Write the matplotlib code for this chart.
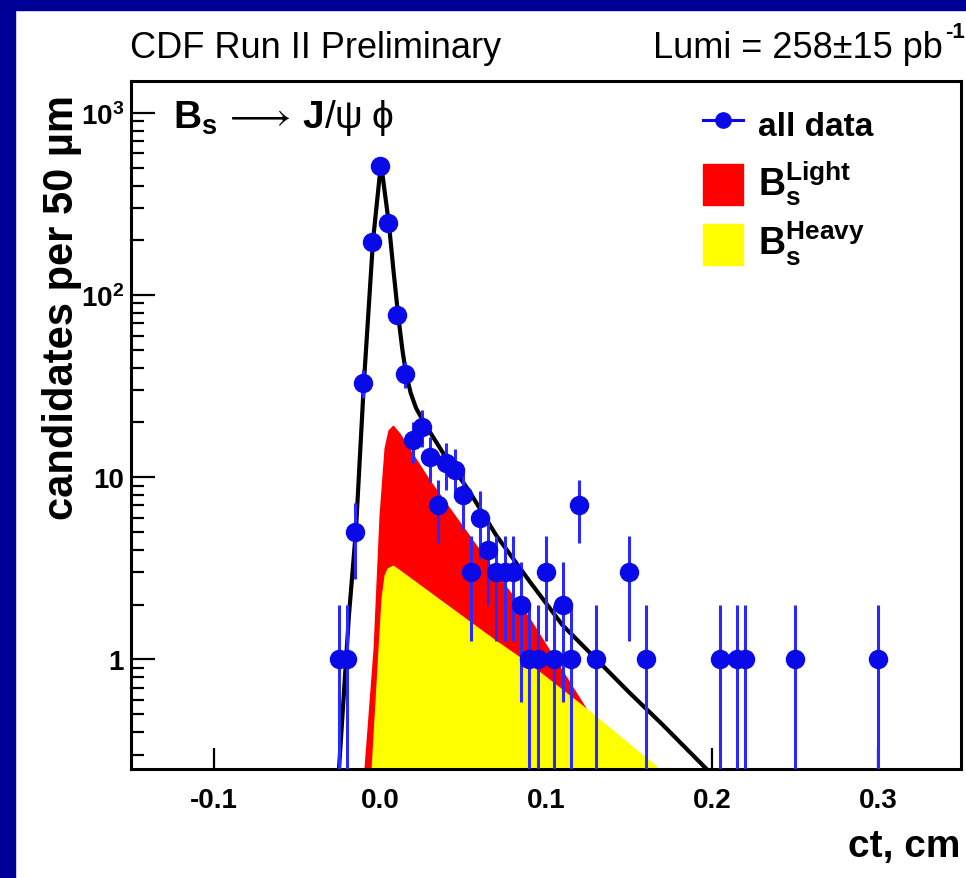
import matplotlib.pyplot as plt
from matplotlib.lines import Line2D
from matplotlib.patches import Rectangle
from matplotlib.ticker import LogLocator, NullFormatter, NullLocator
import numpy as np

plt.rcParams['font.family'] = ['Liberation Sans', 'DejaVu Sans']
plt.rcParams['mathtext.fontset'] = 'custom'
plt.rcParams['mathtext.rm'] = 'Liberation Sans'
plt.rcParams['mathtext.bf'] = 'Liberation Sans:bold'
plt.rcParams['mathtext.it'] = 'Liberation Sans:italic'

# proper decay length histogram, 50 um bins
ct = [-0.025, -0.02, -0.015, -0.01, -0.005, 0.0, 0.005, 0.01, 0.015, 0.02,
      0.025, 0.03, 0.035, 0.04, 0.045, 0.05, 0.055, 0.06, 0.065, 0.07,
      0.075, 0.08, 0.085, 0.09, 0.095, 0.1, 0.105, 0.11, 0.115, 0.12,
      0.13, 0.15, 0.16, 0.205, 0.215, 0.22, 0.25, 0.30]
counts = [1, 1, 5, 33, 195, 515, 248, 78, 37, 16,
          19, 13, 7, 12, 11, 8, 3, 6, 4, 3,
          3, 3, 2, 1, 1, 3, 1, 2, 1, 7,
          1, 3, 1, 1, 1, 1, 1, 1]

# total fit
fit_ct = [-0.0247, -0.0187, -0.0145, -0.0097, -0.0042, 0.0006, 0.0030, 0.0054,
          0.0080, 0.0109, 0.0135, 0.0157, 0.0185, 0.0217, 0.0260, 0.0296,
          0.0398, 0.0537, 0.0700, 0.0900, 0.1100, 0.1304, 0.1500, 0.1700,
          0.1967]
fit_val = [0.25, 1.75, 5.1, 33, 200, 530, 360, 245,
           140, 78, 50, 37, 29, 24, 20.4, 18,
           12.8, 8.4, 4.8, 2.69, 1.54, 1.0, 0.66, 0.44,
           0.25]

# light component
light_ct = [-0.0097, -0.0042, -0.0006, 0.0024, 0.0048, 0.0078, 0.0120,
            0.0296, 0.0700, 0.0900, 0.1243, 0.1480]
light_val = [0.25, 1.15, 6.2, 14.5, 18.2, 19.4, 17.5,
             9.8, 3.0, 1.7, 0.54, 0.25]

# heavy component
heavy_ct = [-0.0054, -0.0012, 0.0006, 0.0024, 0.0042, 0.0078, 0.0120,
            0.0700, 0.0900, 0.1243, 0.1666]
heavy_val = [0.25, 1.15, 2.17, 2.9, 3.17, 3.3, 3.1,
             1.27, 0.95, 0.54, 0.26]

W, H = 966, 879
fig = plt.figure(figsize=(W / 100, H / 100), dpi=100)
fig.patch.set_facecolor('white')
fig.patches.append(Rectangle((0, 0), 15 / W, 1, transform=fig.transFigure,
                             color='#000099', zorder=0))
fig.patches.append(Rectangle((0, 1 - 11 / H), 1, 11 / H, transform=fig.transFigure,
                             color='#000099', zorder=0))

ax = fig.add_axes([131 / W, 1 - 770 / H, 830 / W, 688 / H])
ax.set_yscale('log')

ax.fill_between(light_ct, 1e-3, light_val, color='#ff0000', lw=0, zorder=1)
ax.fill_between(heavy_ct, 1e-3, heavy_val, color='#ffff00', lw=0, zorder=2)

y = np.array(counts, dtype=float)
err = np.sqrt(y)
lo = np.where(y - err > 0, err, y - 1e-3)
ax.errorbar(ct, y, yerr=[lo, err], fmt='o', color='#0a0ae8', ecolor='#2828ff',
            elinewidth=2.2, ms=13, capsize=0, zorder=4)

ax.plot(fit_ct, fit_val, color='black', lw=3, zorder=3, solid_joinstyle='round')

ax.set_xlim(-0.15, 0.35)
ax.set_ylim(0.25, 1500)

ax.set_xticks([-0.1, 0.0, 0.1, 0.2, 0.3])
ax.set_xticklabels(['-0.1', '0.0', '0.1', '0.2', '0.3'])
ax.xaxis.set_minor_locator(NullLocator())
ax.set_yticks([1, 10, 100, 1000])
ax.set_yticklabels(['1', '10', r'$\mathbf{10^{2}}$', r'$\mathbf{10^{3}}$'])
ax.yaxis.set_minor_locator(LogLocator(subs=np.arange(2, 10)))
ax.yaxis.set_minor_formatter(NullFormatter())

ax.tick_params(axis='both', which='both', direction='in', width=1.6,
               top=False, right=False)
ax.tick_params(axis='x', which='major', length=15, pad=13, labelsize=20)
ax.tick_params(axis='y', which='major', length=17, pad=5, labelsize=20)
ax.tick_params(axis='y', which='minor', length=9)
for lab in ax.get_xticklabels() + ax.get_yticklabels():
    lab.set_fontweight('bold')
for sp in ax.spines.values():
    sp.set_linewidth(2.2)

handles = [Line2D([], [], color='#0a0ae8', marker='o', ms=11, lw=2.2),
           Rectangle((0, 0), 1, 1, color='#ff0000'),
           Rectangle((0, 0), 1, 1, color='#ffff00')]
labels = ['all data', r'$\mathbf{B_s^{Light}}$', r'$\mathbf{B_s^{Heavy}}$']
leg = ax.legend(handles, labels, loc='upper left', bbox_to_anchor=(0.689, 0.966),
                frameon=False, fontsize=22, handlelength=1.3, handleheight=1.7,
                handletextpad=0.5, labelspacing=0.4, borderpad=0, borderaxespad=0)
leg.get_texts()[0].set_fontweight('bold')
leg.get_texts()[0].set_fontsize(24)
leg.get_texts()[1].set_fontsize(27)
leg.get_texts()[2].set_fontsize(27)

ax.text(0.0506, 0.933,
        r'$\mathbf{B_s}\,\longrightarrow\,\mathbf{J}/\mathrm{\psi}\;\mathrm{\phi}$',
        transform=ax.transAxes, fontsize=28, ha='left', va='baseline')

fig.text(130 / W, 1 - 58 / H, 'CDF Run II Preliminary', fontsize=26,
         ha='left', va='baseline')
fig.text(943 / W, 1 - 58 / H, 'Lumi = 258\u00b115 pb', fontsize=26,
         ha='right', va='baseline')
fig.text(945 / W, 1 - 38 / H, '-1', fontsize=16, fontweight='bold',
         ha='left', va='baseline')
fig.text(62 / W, 1 - 307 / H, 'candidates per 50 \u00b5m', fontsize=30,
         fontweight='bold', rotation=90, ha='center', va='center')
fig.text(960 / W, 1 - 857 / H, 'ct, cm', fontsize=28, fontweight='bold',
         ha='right', va='baseline')

fig.savefig('out.png', dpi=100)
